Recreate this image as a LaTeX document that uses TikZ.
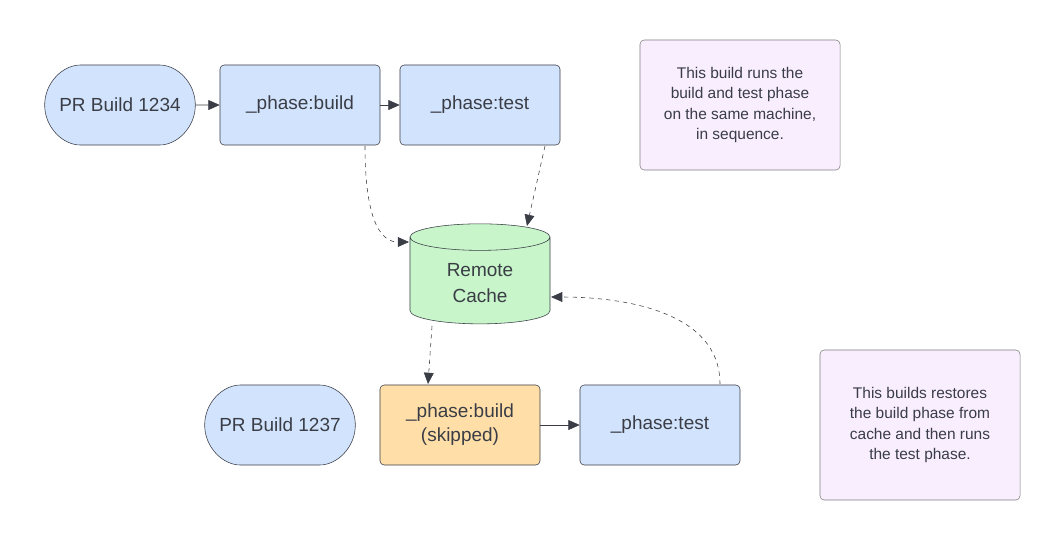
\documentclass[tikz,border=0pt]{standalone}
\usepackage{fontspec}
\setmainfont{Liberation Sans}
\usetikzlibrary{shapes.geometric,shapes.misc,arrows.meta}
\definecolor{boxblue}{HTML}{D2E4FD}
\definecolor{boxgreen}{HTML}{C8F5CA}
\definecolor{boxorange}{HTML}{FFDEA8}
\definecolor{notepink}{HTML}{F9EEFE}
\definecolor{linegray}{HTML}{3A3D45}
\tikzset{
  phase/.style={draw=linegray,fill=boxblue,rounded corners=3pt,minimum width=4cm,minimum height=2cm,font=\fontsize{13.5}{17}\selectfont,align=center,text=linegray},
  pr/.style={phase,rounded rectangle},
  note/.style={draw=gray,fill=notepink,rounded corners=3pt,align=center,font=\fontsize{11}{14.5}\selectfont,text=linegray},
  flow/.style={-{Triangle[length=8pt,width=7pt]},draw=linegray,thin},
  cache/.style={flow,dashed}
}
\begin{document}
\begin{tikzpicture}[x=0.025cm,y=-0.025cm]
  \useasboundingbox (0,0) rectangle (1060,541);

  \node[pr] (pr1234) at (120,105) {PR Build 1234};
  \node[phase] (build1) at (300,105) {\_phase:build};
  \node[phase] (test1) at (480,105) {\_phase:test};
  \node[note,minimum width=5cm,minimum height=3.25cm] (note1) at (740,105)
    {This build runs the\\build and test phase\\on the same machine,\\in sequence.};

  \node[cylinder,shape border rotate=90,aspect=0.35,draw=linegray,fill=boxgreen,
    minimum width=3.5cm,minimum height=2.5cm,align=center,text=linegray,
    font=\fontsize{13.5}{19}\selectfont] (remote) at (480,283) {Remote\\Cache};

  \node[pr] (pr1237) at (280,425) {PR Build 1237};
  \node[phase,fill=boxorange] (build2) at (460,425) {\_phase:build\\(skipped)};
  \node[phase] (test2) at (660,425) {\_phase:test};
  \node[note,minimum width=5cm,minimum height=3.75cm] (note2) at (920,425)
    {This builds restores\\the build phase from\\cache and then runs\\the test phase.};

  \coordinate (b1out) at (365,146);
  \coordinate (t1out) at (545,146);
  \coordinate (rcin1) at (409,242);
  \coordinate (rcin2) at (527,226);
  \coordinate (rcout) at (432,326);
  \coordinate (b2in) at (428,384);
  \coordinate (t2out) at (720,384);
  \coordinate (rcin3) at (551,297);

  \draw[flow] (pr1234) -- (build1);
  \draw[flow] (build1) -- (test1);
  \draw[flow] (build2) -- (test2);

  \draw[cache] (b1out) .. controls (365,230) and (385,242) .. (rcin1);
  \draw[cache] (t1out) -- (rcin2);
  \draw[cache] (rcout) -- (b2in);
  \draw[cache] (t2out) .. controls (720,310) and (620,297) .. (rcin3);
\end{tikzpicture}
\end{document}
